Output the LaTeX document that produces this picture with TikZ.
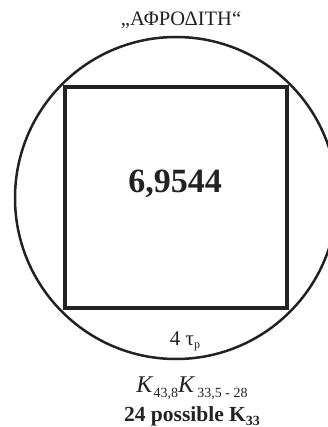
\documentclass[tikz,border=0pt]{standalone}
\usepackage{fontspec}
\setmainfont{Liberation Serif}
\definecolor{ink}{HTML}{222222}
\begin{document}
\begin{tikzpicture}[x=1pt,y=-1pt,
  ring/.style={draw=ink,line width=2.5pt},
  sq/.style={draw=ink,line width=4.5pt},
  lbl/.style={text=ink,inner sep=0pt,anchor=base}]
\useasboundingbox (0,0) rectangle (328,427);
\clip (0,0) rectangle (328,427);
\node[ring,circle,minimum size=322pt,inner sep=0pt] (c) at (176,198) {};
\node[sq,minimum width=222pt,minimum height=221pt,inner sep=0pt] (s) at (176,197.5) {};
\node[lbl,font=\fontsize{20.5}{22}\selectfont] (t) at (181,26) {„ΑΦΡΟΔΙΤΗ“};
\node[lbl,font=\fontsize{34}{36}\selectfont\bfseries] (v) at (175,193) {6,9544};
\node[lbl,font=\fontsize{21}{23}\selectfont] (tau) at (185,345) {4 τ\raisebox{-3pt}{\fontsize{12}{13}\selectfont p}};
\node[lbl,font=\fontsize{24}{26}\selectfont] (k) at (192,392) {\textit{K}\raisebox{-5pt}{\fontsize{14}{15}\selectfont 43,8}\textit{K}\raisebox{-5pt}{\fontsize{14}{15}\selectfont\,33,5 - 28}};
\node[lbl,font=\fontsize{21.5}{23}\selectfont\bfseries] (p) at (192,421) {24 possible K\raisebox{-4pt}{\fontsize{14}{15}\selectfont 33}};
\end{tikzpicture}
\end{document}
